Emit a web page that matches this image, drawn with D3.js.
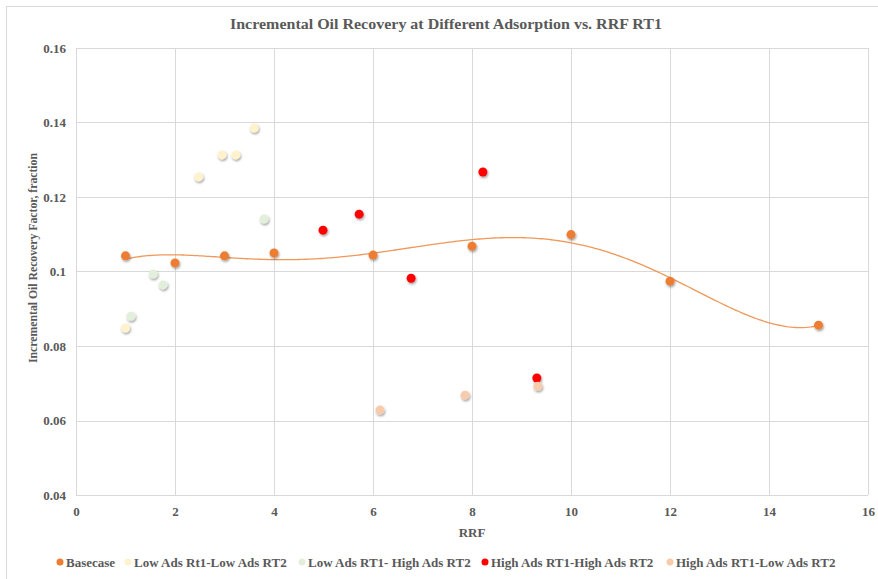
<!DOCTYPE html>
<html>
<head>
<meta charset="utf-8">
<script src="https://cdn.jsdelivr.net/npm/d3@7"></script>
<style>
  body { margin: 0; background: #fff; }
  svg text { font-family: "Liberation Serif", "Times New Roman", serif; font-weight: bold; fill: #595959; }
</style>
</head>
<body>
<div id="chart"></div>
<script>
// series data: [RRF, incremental recovery]
var basecase = [[1, 0.1042], [2, 0.1023], [3, 0.1042], [4, 0.1050], [6, 0.1044], [8, 0.1068], [10, 0.1099], [12, 0.0974], [15, 0.0856]];
var lowLow = [[1.0, 0.0848], [2.48, 0.1254], [2.95, 0.1313], [3.23, 0.1313], [3.6, 0.1385]];
var lowHigh = [[1.11, 0.0880], [1.56, 0.0993], [1.76, 0.0964], [3.8, 0.1141]];
var highHigh = [[4.99, 0.1111], [5.72, 0.1154], [6.77, 0.0982], [8.22, 0.1267], [9.31, 0.0714]];
var highLow = [[6.14, 0.0628], [7.86, 0.0668], [9.33, 0.0692]];

var seriesNames = ["Basecase", "Low Ads Rt1-Low Ads RT2", "Low Ads RT1- High Ads RT2", "High Ads RT1-High Ads RT2", "High Ads RT1-Low Ads RT2"];
var seriesColors = ["#ED7D31", "#FFF2CC", "#E2EFDA", "#FF0000", "#F8CBAD"];
var xTicks = [0, 2, 4, 6, 8, 10, 12, 14, 16];
var yTicks = [0.04, 0.06, 0.08, 0.1, 0.12, 0.14, 0.16];

var width = 878, height = 579;
var margin = {top: 48, right: 10, bottom: 84, left: 76};

var svg = d3.select("#chart").append("svg")
    .attr("width", width)
    .attr("height", height);

// marker shadow like the spreadsheet export
var defs = svg.append("defs");
defs.append("filter")
    .attr("id", "shadow")
    .attr("x", "-50%").attr("y", "-50%").attr("width", "200%").attr("height", "200%")
    .append("feDropShadow")
    .attr("dx", 0.8).attr("dy", 1.5)
    .attr("stdDeviation", 1)
    .attr("flood-color", "#000")
    .attr("flood-opacity", 0.4);

// outer chart border
svg.append("rect")
    .attr("x", 6.5).attr("y", 6.5)
    .attr("width", width).attr("height", height)
    .attr("fill", "none")
    .attr("stroke", "#d9d9d9");

var x = d3.scaleLinear().domain([0, 16]).range([margin.left, width - margin.right]);
var y = d3.scaleLinear().domain([0.04, 0.16]).range([height - margin.bottom, margin.top]);

// gridlines
svg.append("g")
   .selectAll("line")
   .data(xTicks)
   .enter().append("line")
   .attr("x1", function(d) { return x(d) + 0.5; })
   .attr("x2", function(d) { return x(d) + 0.5; })
   .attr("y1", y(0.16)).attr("y2", y(0.04))
   .attr("stroke", "#d9d9d9");

svg.append("g")
   .selectAll("line")
   .data(yTicks)
   .enter().append("line")
   .attr("y1", function(d) { return Math.round(y(d)) + 0.5; })
   .attr("y2", function(d) { return Math.round(y(d)) + 0.5; })
   .attr("x1", x(0)).attr("x2", x(16))
   .attr("stroke", "#d9d9d9");

// axes (labels only, lines are the grid)
var xAxis = svg.append("g")
   .attr("transform", "translate(0," + (y(0.04) + 4) + ")")
   .call(d3.axisBottom(x).tickValues(xTicks).tickSize(0).tickPadding(8).tickFormat(d3.format("d")));
xAxis.select(".domain").remove();
xAxis.selectAll("text").attr("font-size", "13px");

var yAxis = svg.append("g")
   .attr("transform", "translate(" + (x(0) - 4) + ",0)")
   .call(d3.axisLeft(y).tickValues(yTicks).tickSize(0).tickPadding(6).tickFormat(function(d) { return d3.format("")(+d.toFixed(2)); }));
yAxis.select(".domain").remove();
yAxis.selectAll("text").attr("font-size", "13px");

// titles
svg.append("text")
   .attr("x", 446)
   .attr("y", 29)
   .attr("text-anchor", "middle")
   .attr("font-size", "15px")
   .attr("textLength", 432)
   .attr("lengthAdjust", "spacingAndGlyphs")
   .text("Incremental Oil Recovery at Different Adsorption vs. RRF RT1");

svg.append("text")
   .attr("x", x(8))
   .attr("y", 537)
   .attr("text-anchor", "middle")
   .attr("font-size", "13px")
   .text("RRF");

svg.append("text")
   .attr("transform", "translate(37,258) rotate(-90)")
   .attr("text-anchor", "middle")
   .attr("font-size", "13px")
   .attr("textLength", 210)
   .attr("lengthAdjust", "spacingAndGlyphs")
   .text("Incremental Oil Recovery Factor, fraction");

// polynomial trendline fitted to the basecase points
function polyFit(pts, order) {
    var n = order + 1;
    var A = [], b = [];
    for (var i = 0; i < n; i++) {
        A.push(new Array(n).fill(0));
        b.push(0);
    }
    pts.forEach(function(p) {
        var t = p[0] / 10;
        for (var i = 0; i < n; i++) {
            for (var j = 0; j < n; j++) A[i][j] += Math.pow(t, i + j);
            b[i] += Math.pow(t, i) * p[1];
        }
    });
    for (var c = 0; c < n; c++) {
        var piv = c;
        for (var r = c + 1; r < n; r++) if (Math.abs(A[r][c]) > Math.abs(A[piv][c])) piv = r;
        var tmp = A[c]; A[c] = A[piv]; A[piv] = tmp;
        var tb = b[c]; b[c] = b[piv]; b[piv] = tb;
        for (var r2 = c + 1; r2 < n; r2++) {
            var f = A[r2][c] / A[c][c];
            for (var k = c; k < n; k++) A[r2][k] -= f * A[c][k];
            b[r2] -= f * b[c];
        }
    }
    var coef = new Array(n).fill(0);
    for (var r3 = n - 1; r3 >= 0; r3--) {
        var s = b[r3];
        for (var k2 = r3 + 1; k2 < n; k2++) s -= A[r3][k2] * coef[k2];
        coef[r3] = s / A[r3][r3];
    }
    return function(xv) {
        var t = xv / 10, v = 0;
        for (var i = 0; i < n; i++) v += coef[i] * Math.pow(t, i);
        return v;
    };
}

var trend = polyFit(basecase, 5);
var trendPts = d3.range(1, 15.001, 0.05).map(function(v) { return [v, trend(v)]; });

svg.append("path")
   .datum(trendPts)
   .attr("fill", "none")
   .attr("stroke", "#F0975A")
   .attr("stroke-width", 1.3)
   .attr("d", d3.line().x(function(d) { return x(d[0]); }).y(function(d) { return y(d[1]); }));

// markers
var allSeries = [basecase, lowLow, lowHigh, highHigh, highLow];
allSeries.forEach(function(s, i) {
    svg.append("g")
       .selectAll("circle")
       .data(s)
       .enter().append("circle")
       .attr("cx", function(d) { return x(d[0]); })
       .attr("cy", function(d) { return y(d[1]); })
       .attr("r", 4.5)
       .attr("fill", seriesColors[i])
       .attr("filter", "url(#shadow)");
});

// legend
var legendX = [60, 128, 302, 485, 670];
var legend = svg.append("g");
seriesNames.forEach(function(name, i) {
    legend.append("circle")
       .attr("cx", legendX[i])
       .attr("cy", 562)
       .attr("r", 3.5)
       .attr("fill", seriesColors[i]);
    legend.append("text")
       .attr("x", legendX[i] + 6)
       .attr("y", 566.5)
       .attr("font-size", "13px")
       .text(name);
});
</script>
</body>
</html>
